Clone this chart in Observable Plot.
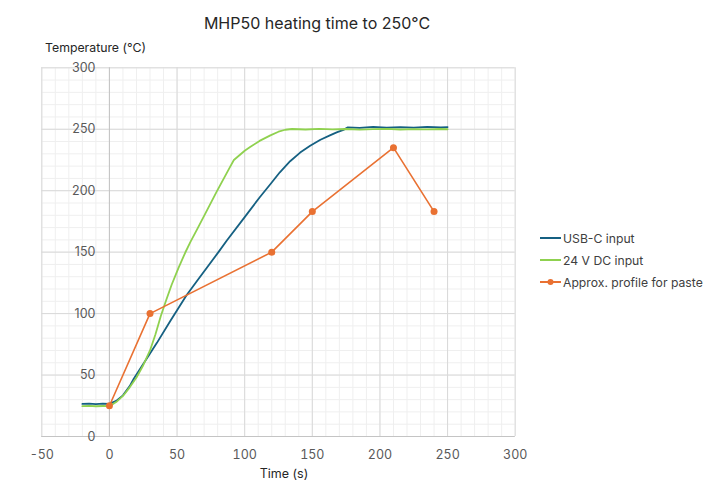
<!DOCTYPE html>
<html>
<head>
<meta charset="utf-8">
<script src="https://cdn.jsdelivr.net/npm/d3@7"></script>
<script src="https://cdn.jsdelivr.net/npm/@observablehq/plot@0.6"></script>
<style>
  html, body { margin: 0; padding: 0; background: #fff; }
  #wrap { position: relative; width: 720px; height: 493px; font-family: Inter, "Open Sans", sans-serif; color: #404040; }
  #wrap svg.plot { position: absolute; left: 0; top: 0; }
  .lbl { position: absolute; white-space: nowrap; }
  #title { left: 0; width: 634px; top: 13px; text-align: center; font-size: 16px; color: #262626; }
  #ytitle { left: 45px; top: 40px; font-size: 12.3px; color: #262626; }
  #xtitle { left: 0; width: 568px; top: 466px; text-align: center; font-size: 12.5px; color: #262626; }
  .leg { position: absolute; left: 540px; height: 16px; display: flex; align-items: center; font-size: 12.2px; color: #404040; }
  .leg svg { margin-right: 2px; }
</style>
</head>
<body>
<div id="wrap">
  <div id="title" class="lbl">MHP50 heating time to 250°C</div>
  <div id="ytitle" class="lbl">Temperature (°C)</div>
  <div id="xtitle" class="lbl">Time (s)</div>
  <div id="legend"></div>
</div>
<script>
// ---- data ----
const xTicks = [-50, 0, 50, 100, 150, 200, 250, 300];
const yTicks = [0, 50, 100, 150, 200, 250, 300];

const usbTime = [-20, -15, -10, -5, 0, 5, 10, 15, 18, 25, 35, 45, 57, 65, 80.6, 86.8, 100, 111, 118.8, 126, 133.6, 141, 148.4, 156, 163, 168, 173, 176, 185, 195, 205, 215, 225, 235, 245, 250];
const usbTemp = [26.5, 26.8, 26.4, 26.7, 26.5, 29, 33.5, 41, 47, 59, 76, 94, 115, 127, 150, 159.5, 178.5, 194.5, 205, 215, 224, 231, 236.5, 241.5, 245, 247.5, 249.5, 251.5, 251.2, 252, 251.4, 251.8, 251.3, 252, 251.6, 251.8];

const dcTime = [-20, -15, -10, -5, 0, 5, 10, 15, 20, 25, 30, 34, 38, 42, 46, 51, 56, 60, 65, 70, 79.4, 89, 92, 100, 104, 111, 119, 125, 130, 135, 145, 155, 165, 175, 185, 195, 205, 215, 225, 235, 245, 250];
const dcTemp = [24.7, 24.9, 24.6, 24.8, 24.7, 28, 33, 40, 48, 58, 70, 83, 98, 111, 123.5, 137, 149.5, 158.5, 169, 179.5, 199.5, 219, 225, 232.5, 235.5, 240.5, 245, 248, 249.6, 250.2, 249.8, 250.3, 249.9, 250.2, 249.7, 250.1, 250.3, 249.8, 250.1, 249.9, 250.2, 250];

const pasteTime = [0, 30, 120, 150, 210, 240];
const pasteTemp = [25, 100, 150, 183, 235, 183];

const seriesNames = ["USB-C input", "24 V DC input", "Approx. profile for paste"];
const seriesColors = ["#156082", "#8fd14f", "#e97132"];

const usb = usbTime.map((t, i) => ({t, v: usbTemp[i]}));
const dc = dcTime.map((t, i) => ({t, v: dcTemp[i]}));
const paste = pasteTime.map((t, i) => ({t, v: pasteTemp[i]}));

const chart = Plot.plot({
  width: 720,
  height: 493,
  marginLeft: 41.3,
  marginRight: 205.3,
  marginTop: 67.3,
  marginBottom: 57,
  x: {domain: [-50, 300], axis: null},
  y: {domain: [0, 300], axis: null},
  style: {fontFamily: "Inter, 'Open Sans', sans-serif", fontSize: "12.5px", background: "transparent", overflow: "visible"},
  marks: [
    Plot.gridX(d3.range(-50, 301, 10), {stroke: "#efefef", strokeOpacity: 1}),
    Plot.gridY(d3.range(0, 301, 10), {stroke: "#efefef", strokeOpacity: 1}),
    Plot.gridX(xTicks, {stroke: "#d9d9d9", strokeOpacity: 1}),
    Plot.gridY(yTicks, {stroke: "#d9d9d9", strokeOpacity: 1}),
    Plot.ruleX([0], {stroke: "#c4c4c4"}),
    Plot.ruleY([0], {stroke: "#c4c4c4"}),
    Plot.axisX({ticks: xTicks, tickSize: 0, tickPadding: 14, tickFormat: d => String(d), label: null, color: "#595959"}),
    Plot.text(yTicks, {x: 0, y: d => d, text: d => String(d), textAnchor: "end", dx: -14, fill: "#595959"}),
    Plot.line(usb, {x: "t", y: "v", stroke: seriesColors[0], strokeWidth: 1.8}),
    Plot.line(dc, {x: "t", y: "v", stroke: seriesColors[1], strokeWidth: 1.8}),
    Plot.line(paste, {x: "t", y: "v", stroke: seriesColors[2], strokeWidth: 1.6}),
    Plot.dot(paste, {x: "t", y: "v", fill: seriesColors[2], r: 3.5})
  ]
});
chart.classList.add("plot");
document.getElementById("wrap").prepend(chart);

// legend
const legTops = [230, 252, 274];
const legend = document.getElementById("legend");
seriesNames.forEach((name, i) => {
  const row = document.createElement("div");
  row.className = "leg";
  row.style.top = legTops[i] + "px";
  const dot = i === 2 ? `<circle cx="10.5" cy="8" r="3" fill="${seriesColors[i]}"/>` : "";
  row.innerHTML = `<svg width="21" height="16"><line x1="0" x2="21" y1="8" y2="8" stroke="${seriesColors[i]}" stroke-width="2"/>${dot}</svg><span>${name}</span>`;
  legend.appendChild(row);
});
</script>
</body>
</html>
